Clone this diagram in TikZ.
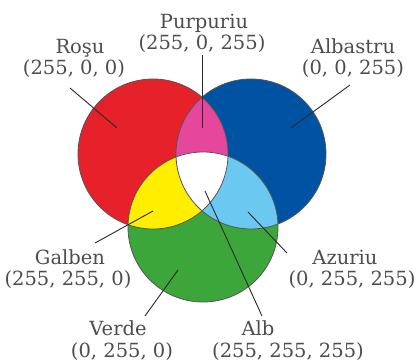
\documentclass[tikz,border=0pt]{standalone}
\usepackage{fontspec}
\setmainfont{DejaVu Serif}
\definecolor{cred}{HTML}{E62129}
\definecolor{cblue}{HTML}{0053A2}
\definecolor{cgreen}{HTML}{3DA63A}
\definecolor{cyellow}{HTML}{FFEE00}
\definecolor{cmag}{HTML}{E5479C}
\definecolor{ccyan}{HTML}{6BC8F0}
\definecolor{ctext}{HTML}{4D4D4D}
\definecolor{cline}{HTML}{2A2A2A}
\begin{document}
\begin{tikzpicture}[x=1pt,y=-1pt,
  lbl/.style={anchor=base,inner sep=0pt,text=ctext,font=\fontsize{19.5}{23}\selectfont},
  leader/.style={draw=cline,line width=0.9pt},
  rim/.style={draw=cline!80,line width=0.8pt}]
\useasboundingbox[fill=white] (0,0) rectangle (416,361);
\def\R{75}
\coordinate (cr) at (153,154);
\coordinate (cb) at (251,154);
\coordinate (cg) at (203,227);
% base discs
\fill[cred] (cr) circle (\R);
\fill[cblue] (cb) circle (\R);
\fill[cgreen] (cg) circle (\R);
% pairwise overlaps
\begin{scope}
  \clip (cr) circle (\R);
  \fill[cmag] (cb) circle (\R);
  \fill[cyellow] (cg) circle (\R);
\end{scope}
\begin{scope}
  \clip (cb) circle (\R);
  \fill[ccyan] (cg) circle (\R);
\end{scope}
\begin{scope}
  \clip (cr) circle (\R);
  \clip (cb) circle (\R);
  \fill[white] (cg) circle (\R);
\end{scope}
\draw[rim] (cr) circle (\R);
\draw[rim] (cb) circle (\R);
\draw[rim] (cg) circle (\R);
% labels
\node[lbl] (rosu) at (80,54) {Roşu};
\node[lbl] (rosuv) at (74,75) {(255, 0, 0)};
\node[lbl] (purp) at (204,29) {Purpuriu};
\node[lbl] (purpv) at (202,50) {(255, 0, 255)};
\node[lbl] (albas) at (353,54) {Albastru};
\node[lbl] (albasv) at (353,75) {(0, 0, 255)};
\node[lbl] (galb) at (70,265) {Galben};
\node[lbl] (galbv) at (68,286) {(255, 255, 0)};
\node[lbl] (azur) at (345,265) {Azuriu};
\node[lbl] (azurv) at (352,286) {(0, 255, 255)};
\node[lbl] (verde) at (118,335) {Verde};
\node[lbl] (verdev) at (122,357) {(0, 255, 0)};
\node[lbl] (alb) at (258,335) {Alb};
\node[lbl] (albv) at (288,357) {(255, 255, 255)};
% leader end points
\coordinate (rosuA) at (70,88);   \coordinate (rosuB) at (117,128);
\coordinate (purpA) at (202,55);  \coordinate (purpB) at (202,128);
\coordinate (albasA) at (350,85); \coordinate (albasB) at (291,128);
\coordinate (galbA) at (95,243);  \coordinate (galbB) at (153,211);
\coordinate (azurA) at (287,253); \coordinate (azurB) at (248,212);
\coordinate (verdeA) at (145,316);\coordinate (verdeB) at (178,270);
\coordinate (albA) at (262,316);  \coordinate (albB) at (205,191);
\draw[leader] (rosuA) -- (rosuB);
\draw[leader] (purpA) -- (purpB);
\draw[leader] (albasA) -- (albasB);
\draw[leader] (galbA) -- (galbB);
\draw[leader] (azurA) -- (azurB);
\draw[leader] (verdeA) -- (verdeB);
\draw[leader] (albA) -- (albB);
\end{tikzpicture}
\end{document}
